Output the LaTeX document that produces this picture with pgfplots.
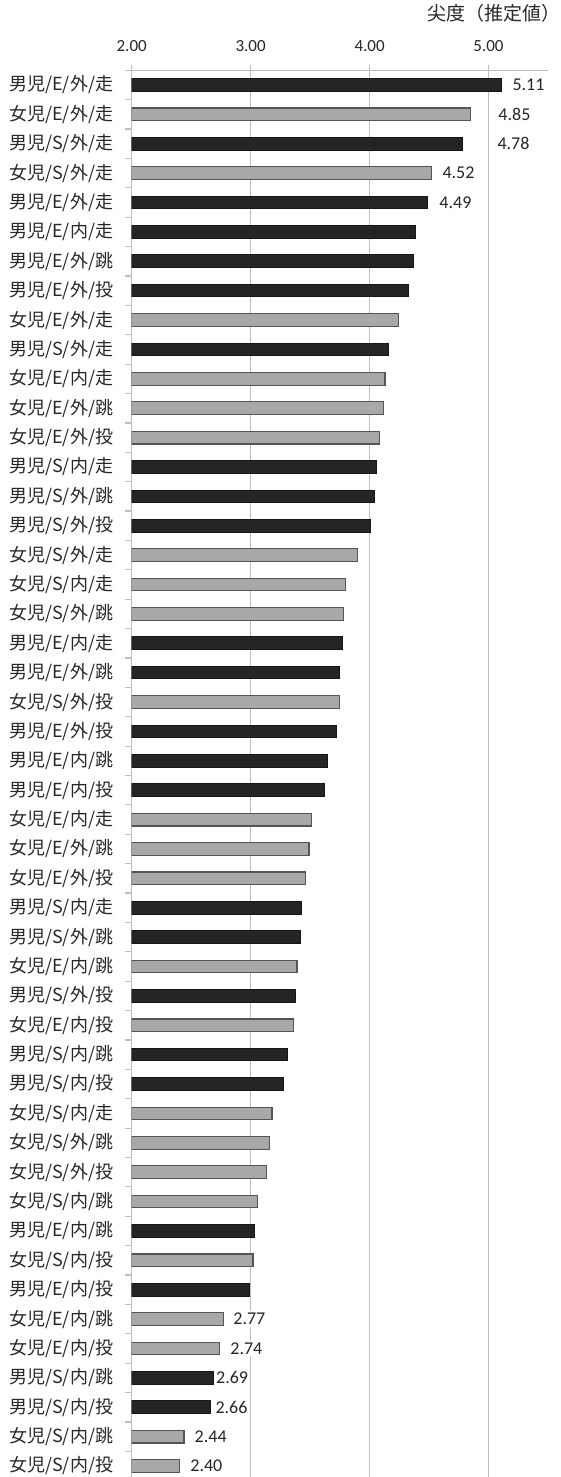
\documentclass[border=0pt]{standalone}
\usepackage{fontspec}
\setmainfont{Carlito}
\newfontfamily\jp{Noto Sans CJK JP}
\usepackage{pgfplots}
\usepackage{pgfplotstable}
\pgfplotsset{compat=1.18}
\definecolor{barblack}{HTML}{252525}
\definecolor{barblackedge}{HTML}{151515}
\definecolor{bargray}{HTML}{A8A8A8}
\definecolor{bargrayedge}{HTML}{555555}
\definecolor{gridc}{HTML}{BEBEBE}
\definecolor{txt}{HTML}{262626}

\pgfplotstableread{
r v
1 5.11
3 4.78
5 4.49
6 4.39
7 4.37
8 4.33
10 4.16
14 4.06
15 4.04
16 4.01
20 3.77
21 3.75
23 3.72
24 3.65
25 3.62
29 3.43
30 3.42
32 3.38
34 3.31
35 3.28
40 3.03
42 2.99
45 2.69
46 2.66
}\boys

\pgfplotstableread{
r v
2 4.85
4 4.52
9 4.24
11 4.13
12 4.12
13 4.08
17 3.90
18 3.80
19 3.78
22 3.75
26 3.51
27 3.49
28 3.46
31 3.39
33 3.36
36 3.18
37 3.16
38 3.13
39 3.06
41 3.02
43 2.77
44 2.74
47 2.44
48 2.40
}\girls

\pgfplotstableread{
r v s t
1 5.11 4.25 5.11
2 4.85 12.7 4.85
3 4.78 16.4 4.78
4 4.52 4.35 4.52
5 4.49 4.6 4.49
43 2.77 3.85 2.77
44 2.74 4.15 2.74
45 2.69 0.0 2.69
46 2.66 1.45 2.66
47 2.44 4.15 2.44
48 2.40 4.35 2.40
}\labs

\begin{document}
\begin{tikzpicture}
\begin{axis}[
  name=ax,
  scale only axis,
  width=208.15pt, height=705.2pt,
  xmin=2, xmax=5.5, ymin=0.5, ymax=48.5,
  y dir=reverse,
  axis x line*=top, axis y line*=left,
  axis line style={gridc, line width=0.75pt},
  tick align=outside,
  major tick length=2.5pt,
  minor tick length=3.5pt,
  xtick={2,3,4,5},
  xticklabels={2.00,3.00,4.00,5.00},
  xmajorgrids,
  grid style={gridc, line width=0.75pt},
  x tick style={gridc, line width=0.75pt},
  xticklabel style={font=\fontsize{8.5}{10}\selectfont, text=txt, anchor=center, yshift=9.5pt},
  ytick={1,...,48},
  y tick style={draw=none},
  minor ytick={0.5,1.5,...,48.5},
  minor y tick style={draw=gridc, line width=0.6pt},
  yticklabel style={font=\jp\fontsize{9}{10}\selectfont, text=txt, anchor=east, inner xsep=0pt, xshift=-6.6pt},
  yticklabels={男児/E/外/走,女児/E/外/走,男児/S/外/走,女児/S/外/走,男児/E/外/走,男児/E/内/走,男児/E/外/跳,男児/E/外/投,女児/E/外/走,男児/S/外/走,女児/E/内/走,女児/E/外/跳,女児/E/外/投,男児/S/内/走,男児/S/外/跳,男児/S/外/投,女児/S/外/走,女児/S/内/走,女児/S/外/跳,男児/E/内/走,男児/E/外/跳,女児/S/外/投,男児/E/外/投,男児/E/内/跳,男児/E/内/投,女児/E/内/走,女児/E/外/跳,女児/E/外/投,男児/S/内/走,男児/S/外/跳,女児/E/内/跳,男児/S/外/投,女児/E/内/投,男児/S/内/跳,男児/S/内/投,女児/S/内/走,女児/S/外/跳,女児/S/外/投,女児/S/内/跳,男児/E/内/跳,女児/S/内/投,男児/E/内/投,女児/E/内/跳,女児/E/内/投,男児/S/内/跳,男児/S/内/投,女児/S/内/跳,女児/S/内/投},
]
\addplot[xbar, bar width=0.43, bar shift=0pt, fill=barblack, draw=barblackedge, line width=0.5pt] table[x=v, y=r] {\boys};
\addplot[xbar, bar width=0.43, bar shift=0pt, fill=bargray, draw=bargrayedge, line width=0.6pt] table[x=v, y=r] {\girls};
\addplot[draw=none, mark=none, nodes near coords, point meta=explicit symbolic,
  visualization depends on={\thisrow{s} \as \sh},
  nodes near coords style={anchor=west, xshift=\sh pt, inner xsep=1pt, inner ysep=1pt, fill=white, text=txt, font=\fontsize{9}{10}\selectfont}]
  table[x=v, y=r, meta=t] {\labs};
\end{axis}
\node[anchor=west, inner sep=0pt, text=txt, font=\jp\fontsize{9.5}{11}\selectfont] at ([xshift=147.65pt, yshift=28.6pt]ax.north west) {尖度（推定値）};
\pgfresetboundingbox
\path ([xshift=-65.85pt, yshift=1.85pt]ax.south west) rectangle ++(280.5pt, 738.5pt);
\end{tikzpicture}
\end{document}
